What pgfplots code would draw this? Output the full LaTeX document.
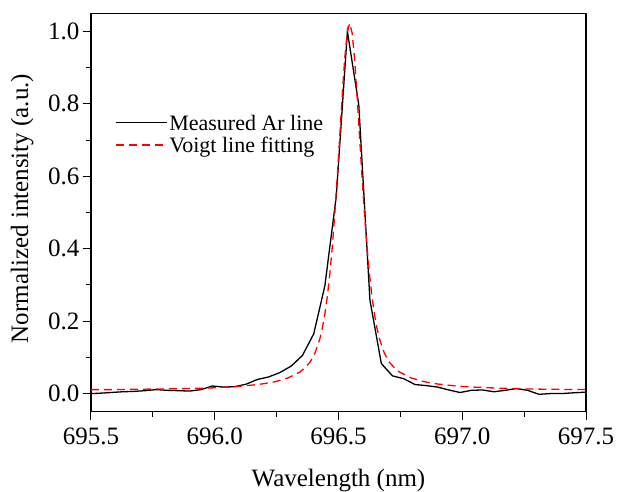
\documentclass[border=0pt]{standalone}
\usepackage{fontspec}
\setmainfont{Liberation Serif}
\usepackage{pgfplots}
\pgfplotsset{compat=1.18}
\begin{document}
\begin{tikzpicture}
\path[use as bounding box] (-91pt,-80.3pt) rectangle (527pt,411.7pt);
\begin{axis}[
 at={(0pt,0pt)}, anchor=south west,
 scale only axis, width=495pt, height=398.4pt,
 xmin=695.5, xmax=697.5, ymin=-0.05, ymax=1.05,
 xtick={695.5,696.0,696.5,697.0,697.5},
 ytick={0,0.2,0.4,0.6,0.8,1.0},
 minor x tick num=1, minor y tick num=1,
 xtick pos=bottom, ytick pos=left, tick align=outside,
 major tick length=8pt, minor tick length=5pt,
 every tick/.style={black, line width=1pt},
 axis line style={line width=1.2pt},
 scaled ticks=false,
 /pgf/number format/.cd, fixed, fixed zerofill, precision=1, assume math mode=true, 1000 sep={}, /pgfplots/.cd,
 tick label style={font=\fontsize{25}{30}\selectfont},
 xticklabel style={yshift=-5pt},
 label style={font=\fontsize{25}{30}\selectfont},
 xlabel={Wavelength (nm)},
 ylabel={Normalized intensity (a.u.)},
 xlabel style={at={(axis description cs:0.5,-0.173)}, anchor=center},
 ylabel style={at={(axis description cs:-0.139,0.51)}, anchor=center},
 legend style={draw=none, at={(axis description cs:0.042,0.76)}, anchor=north west},
 legend cell align=left,
 legend image code/.code={\draw[#1] (0pt,0pt) -- (51pt,0pt);},
]
\addplot[color=black, line width=1.3pt] coordinates {
(695.500,0.000) (695.535,0.001) (695.581,0.003) (695.626,0.005) (695.672,0.006)
(695.717,0.008) (695.763,0.011) (695.808,0.009) (695.854,0.008) (695.899,0.007)
(695.945,0.011) (695.990,0.021) (696.036,0.018) (696.081,0.019) (696.127,0.026)
(696.172,0.039) (696.218,0.046) (696.263,0.058) (696.309,0.076) (696.354,0.105)
(696.400,0.165) (696.445,0.298) (696.491,0.545) (696.536,1.000) (696.582,0.797)
(696.627,0.258) (696.673,0.083) (696.718,0.049) (696.764,0.041) (696.809,0.025)
(696.855,0.022) (696.900,0.018) (696.946,0.010) (696.991,0.003) (697.037,0.009)
(697.082,0.010) (697.128,0.005) (697.173,0.009) (697.219,0.014) (697.264,0.009)
(697.310,-0.002) (697.355,0.000) (697.401,0.000) (697.446,0.002) (697.500,0.004)
};
\addlegendentry{\fontsize{22}{26}\selectfont\rule[-6pt]{0pt}{23pt}Measured Ar line}
\addplot[color=red, line width=1.3pt, dash pattern=on 8pt off 5pt] coordinates {
(695.500,0.011) (695.600,0.011) (695.700,0.012) (695.800,0.013) (695.900,0.014)
(696.000,0.016) (696.045,0.018) (696.095,0.020) (696.145,0.023) (696.195,0.027)
(696.245,0.033) (696.295,0.043) (696.345,0.060) (696.365,0.072) (696.385,0.087)
(696.405,0.112) (696.425,0.152) (696.435,0.182) (696.445,0.220) (696.455,0.269)
(696.465,0.331) (696.475,0.406) (696.485,0.496) (696.495,0.599) (696.505,0.710)
(696.515,0.823) (696.525,0.924) (696.535,0.996) (696.545,1.022) (696.555,0.996)
(696.565,0.924) (696.575,0.823) (696.585,0.710) (696.595,0.599) (696.605,0.496)
(696.615,0.406) (696.625,0.331) (696.635,0.269) (696.645,0.220) (696.655,0.182)
(696.665,0.152) (696.685,0.112) (696.705,0.087) (696.725,0.072) (696.745,0.060)
(696.795,0.043) (696.845,0.033) (696.895,0.027) (696.945,0.023) (696.995,0.020)
(697.045,0.018) (697.145,0.015) (697.245,0.013) (697.345,0.012) (697.500,0.011)
};
\addlegendentry{\fontsize{22}{26}\selectfont\rule[-6pt]{0pt}{23pt}Voigt line fitting}
\end{axis}
\end{tikzpicture}
\end{document}
